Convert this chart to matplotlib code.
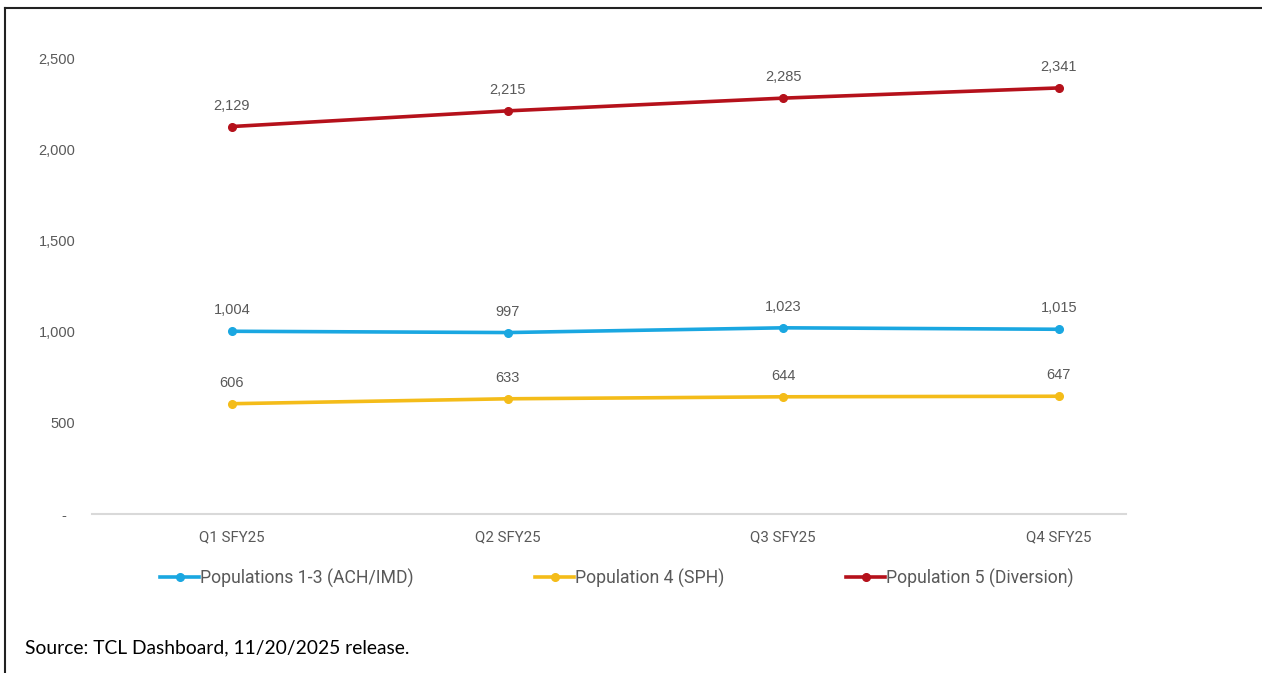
import matplotlib
matplotlib.use("Agg")
import matplotlib.pyplot as plt
from matplotlib.lines import Line2D
from matplotlib.ticker import FuncFormatter

quarters = ["Q1 SFY25", "Q2 SFY25", "Q3 SFY25", "Q4 SFY25"]
pop_1_3 = [1004, 997, 1023, 1015]
pop_4 = [606, 633, 644, 647]
pop_5 = [2129, 2215, 2285, 2341]
series_names = ["Populations 1-3 (ACH/IMD)", "Population 4 (SPH)", "Population 5 (Diversion)"]
colors = ["#1AA7E1", "#F4BC19", "#B5111B"]

W, H = 1262, 673
fig = plt.figure(figsize=(W / 100, H / 100), dpi=100)

# plot area in pixel terms
left, right, top, bottom = 92, 1126, 59, 514
ax = fig.add_axes([left / W, 1 - bottom / H, (right - left) / W, (bottom - top) / H])

x = list(range(len(quarters)))
gray = "#595959"
num_font = "Liberation Sans"
narrow = ["Roboto", "DejaVu Sans"]

handles = []
for vals, name, c in zip([pop_1_3, pop_4, pop_5], series_names, colors):
    ax.plot(x, vals, color=c, lw=2.6, marker="o", ms=5.5, solid_capstyle="round", zorder=3)
    for xi, v in zip(x, vals):
        ax.annotate(f"{v:,}", (xi, v), xytext=(0, 10), textcoords="offset points",
                    ha="center", va="bottom", fontsize=10.5, color=gray, family=num_font)
    handles.append(Line2D([0], [0], color=c, lw=2.6, marker="o", ms=5.5))

# category positions measured across the plot width
ax.set_xlim(-0.508, 3.244)
ax.set_ylim(0, 2500)
ax.set_yticks([0, 500, 1000, 1500, 2000, 2500])
ax.yaxis.set_major_formatter(FuncFormatter(lambda v, p: "-  " if v == 0 else f"{int(v):,}"))
ax.set_xticks(x)
ax.set_xticklabels(quarters, family=narrow, fontsize=10.8, color=gray)
for lab in ax.get_yticklabels():
    lab.set_family(num_font)
    lab.set_fontsize(10.5)
    lab.set_color(gray)
ax.tick_params(axis="y", length=0, pad=12)
ax.tick_params(axis="x", length=0, pad=12)

for s in ["top", "right", "left"]:
    ax.spines[s].set_visible(False)
ax.spines["bottom"].set_color("#D9D9D9")
ax.spines["bottom"].set_linewidth(1.5)

leg = fig.legend(handles, series_names, loc="center", bbox_to_anchor=(617 / W, 1 - 578 / H),
                 ncol=3, frameon=False, handlelength=2.2, handletextpad=0.05,
                 columnspacing=6.9, prop={"family": narrow, "size": 12.7})
for t in leg.get_texts():
    t.set_color(gray)

fig.text(25 / W, 1 - 648 / H, "Source: TCL Dashboard, 11/20/2025 release.",
         fontsize=13.9, family="Lato", color="black", va="center", ha="left")

# page frame on the left and top
fig.add_artist(Line2D([5 / W, 5 / W], [0, 1 - 8 / H], color="#222222", lw=1.5))
fig.add_artist(Line2D([5 / W, 1], [1 - 8 / H, 1 - 8 / H], color="#222222", lw=1.5))

fig.savefig("out.png", dpi=100)
